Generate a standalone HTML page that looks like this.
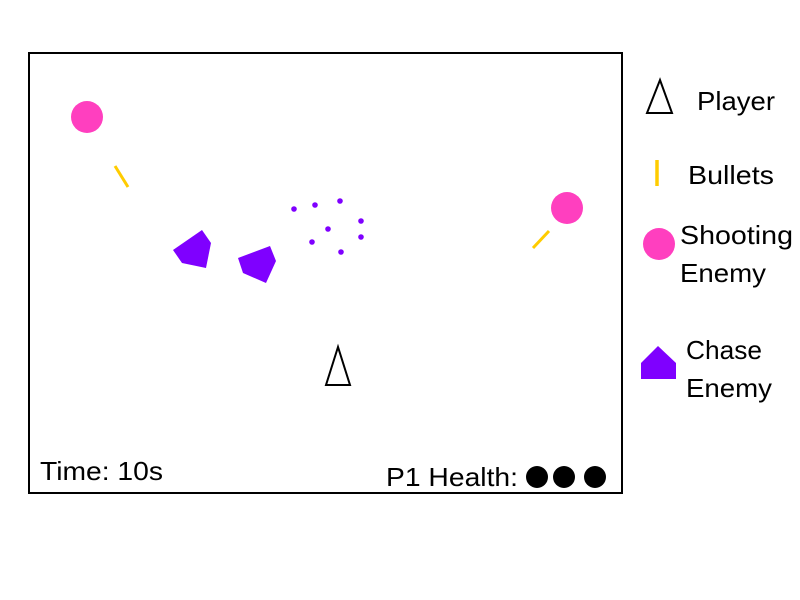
<!DOCTYPE html>
<html><head><meta charset="utf-8"><style>
body{margin:0;background:#fff;}
svg{display:block;font-family:"Liberation Sans",sans-serif;}
</style></head><body>
<svg width="800" height="600">
<rect x="29" y="53" width="593" height="440" fill="#fff" stroke="#000" stroke-width="2"/>
<circle cx="87" cy="117" r="16" fill="#ff3fbf"/>
<circle cx="567" cy="208" r="16" fill="#ff3fbf"/>
<line x1="115" y1="166" x2="128" y2="187" stroke="#ffcc00" stroke-width="3"/>
<line x1="533" y1="248" x2="549" y2="231" stroke="#ffcc00" stroke-width="3"/>
<polygon points="173,250 202,230 211,243 206,268 182,263" fill="#7f00ff"/>
<polygon points="238,258 270,246 276,261 266,283 243,273" fill="#7f00ff"/>
<g fill="#7f00ff">
<circle cx="294" cy="209" r="2.8"/><circle cx="315" cy="205" r="2.8"/><circle cx="340" cy="201" r="2.8"/>
<circle cx="361" cy="221" r="2.8"/><circle cx="328" cy="229" r="2.8"/><circle cx="361" cy="237" r="2.8"/>
<circle cx="312" cy="242" r="2.8"/><circle cx="341" cy="252" r="2.8"/>
</g>
<polygon points="338,347 326,385 350,385" fill="#fff" stroke="#000" stroke-width="2"/>
<text x="40" y="480" font-size="26" textLength="123" lengthAdjust="spacingAndGlyphs">Time: 10s</text>
<text x="386" y="486" font-size="26" textLength="132" lengthAdjust="spacingAndGlyphs">P1 Health:</text>
<circle cx="537" cy="477" r="11" fill="#000"/>
<circle cx="564" cy="477" r="11" fill="#000"/>
<circle cx="595" cy="477" r="11" fill="#000"/>
<g font-size="26">
<polygon points="660,80 647,113 672,113" fill="#fff" stroke="#000" stroke-width="2"/>
<text x="697" y="110" textLength="78" lengthAdjust="spacingAndGlyphs">Player</text>
<line x1="657" y1="160" x2="657" y2="186" stroke="#ffcc00" stroke-width="3.5"/>
<text x="688" y="184" textLength="86" lengthAdjust="spacingAndGlyphs">Bullets</text>
<circle cx="659" cy="244" r="16" fill="#ff3fbf"/>
<text x="680" y="244" textLength="113" lengthAdjust="spacingAndGlyphs">Shooting</text>
<text x="680" y="282" textLength="86" lengthAdjust="spacingAndGlyphs">Enemy</text>
<polygon points="658,346 676,363 676,379 641,379 641,363" fill="#7f00ff"/>
<text x="686" y="359" textLength="76" lengthAdjust="spacingAndGlyphs">Chase</text>
<text x="686" y="397" textLength="86" lengthAdjust="spacingAndGlyphs">Enemy</text>
</g>
</svg>
</body></html>
